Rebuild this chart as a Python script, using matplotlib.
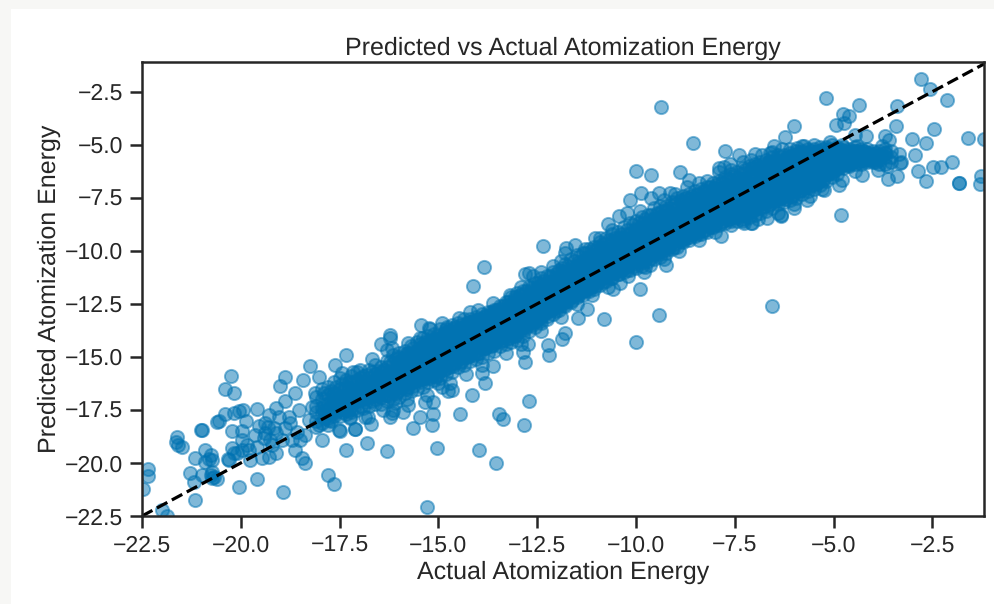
import numpy as np
import matplotlib
matplotlib.use('Agg')
import matplotlib.pyplot as plt
from matplotlib.patches import Rectangle

plt.rcParams['font.family'] = ['Liberation Sans', 'DejaVu Sans']
plt.rcParams['text.hinting'] = 'no_hinting'
plt.rcParams['text.hinting_factor'] = 1

TITLE = 'Predicted vs Actual Atomization Energy'
XLABEL = 'Actual Atomization Energy'
YLABEL = 'Predicted Atomization Energy'
TICKS = [-22.5, -20.0, -17.5, -15.0, -12.5, -10.0, -7.5, -5.0, -2.5]
XLIM = (-22.5, -1.18)
YLIM = (-22.5, -1.1)

# (actual, predicted) for the points that can be told apart
outliers_low = [
    (-20.26,-15.89),(-20.41,-16.52),(-20.18,-16.70),(-20.39,-17.69),(-20.18,-17.66),(-20.04,-17.55),
    (-19.95,-17.50),(-19.59,-17.44),(-19.87,-18.0),(-20.6,-18.08),(-20.54,-18.03),(-21.0,-18.44),
    (-20.98,-18.44),(-20.22,-18.49),(-19.97,-18.49),(-21.61,-18.79),(-21.64,-19.02),(-21.6,-19.15),
    (-21.5,-19.26),(-20.9,-19.39),(-20.75,-19.62),(-21.15,-19.78),(-20.8,-19.81),(-20.9,-19.94),
    (-20.73,-19.86),(-20.33,-19.79),(-20.22,-19.31),(-20.18,-19.54),(-20.29,-19.86),(-20.09,-19.54),
    (-19.97,-19.39),(-19.97,-18.91),(-19.84,-19.15),(-19.76,-19.86),(-19.8,-19.39),(-21.28,-20.45),
    (-20.98,-20.56),(-20.73,-20.41),(-20.75,-20.56),(-21.19,-20.91),(-20.73,-20.72),(-20.6,-20.75),
    (-20.69,-20.64),(-19.59,-20.74),(-20.05,-21.13),(-21.15,-21.74),(-18.93,-21.38),(-17.8,-20.56),
    (-17.64,-20.97),(-17.33,-19.39),(-22.35,-20.28),(-22.35,-20.6),(-22.47,-21.24),(-21.99,-22.2),
    (-21.87,-22.5),(-19.55,-18.28),(-19.38,-18.13),(-19.63,-18.68),(-19.29,-17.73),(-19.12,-17.42),
    (-18.87,-17.1),(-19.0,-16.37),(-18.87,-15.93),(-18.42,-16.11),(-18.24,-15.42),(-18.62,-16.71),
    (-18.87,-18.36),(-18.7,-18.91),(-18.62,-19.39),(-18.45,-19.78),(-18.37,-20.01),(-19.29,-19.7),
    (-19.12,-19.54),(-19.46,-19.78),(-19.21,-19.15),(-19.04,-17.81),(-18.79,-17.81),(-18.53,-17.5),
    (-18.58,-18.52),(-18.37,-18.68),(-18.28,-17.97),(-17.94,-18.91),(-18.03,-18.2),(-17.52,-18.44),
    (-17.1,-18.41),(-17.61,-15.38),(-18.03,-15.93),(-18.11,-16.71),(-18.2,-17.34),(-17.77,-17.97),
    (-17.35,-17.5),(-17.23,-17.89),(-19.42,-18.83),(-19.59,-19.23),(-19.38,-18.6),(-19.17,-18.36),
    (-19.25,-18.91),(-19.3,-18.3),(-19.1,-18.6),(-18.95,-18.9),(-18.75,-18.1),(-18.5,-18.9),
]
outliers_mid = [
    (-15.28,-22.06),(-16.31,-19.43),(-16.81,-19.04),(-15.04,-19.29),(-13.96,-19.37),(-13.54,-20.01),
    (-12.84,-18.21),(-12.7,-17.09),(-13.47,-17.7),(-13.36,-17.92),(-14.16,-16.79),(-14.45,-17.67),
    (-15.65,-18.36),(-15.17,-18.21),(-15.13,-17.67),(-15.46,-17.81),(-16.22,-17.81),(-16.18,-17.66),
    (-15.89,-17.58),(-15.78,-17.29),(-16.1,-17.18),(-16.14,-17.5),(-17.11,-18.41),(-17.49,-18.47),
    (-16.71,-18.14),(-16.86,-17.81),(-16.77,-17.84),(-17.24,-17.84),(-15.34,-17.15),(-15.13,-17.11),
    (-15.0,-16.24),(-14.71,-16.24),(-14.66,-16.56),(-14.75,-16.63),(-13.82,-16.21),(-13.9,-15.77),
    (-13.61,-15.45),(-12.81,-15.22),(-12.85,-14.75),(-12.72,-14.39),(-12.19,-14.9),(-12.22,-14.46),
    (-11.88,-14.17),(-11.79,-13.88),(-17.34,-14.9),(-16.69,-15.11),(-16.44,-14.39),(-16.22,-13.96),
    (-16.22,-14.12),(-16.31,-14.67),(-16.18,-14.59),(-15.76,-14.35),(-15.44,-13.49),(-15.23,-13.65),
    (-15.46,-14.12),(-14.79,-13.57),(-14.47,-13.17),(-17.45,-15.77),(-17.15,-15.69),(-16.98,-15.64),
    (-13.61,-12.47),(-12.36,-9.77),(-13.84,-10.77),(-14.13,-11.65),(-9.99,-6.23),(-9.61,-6.42),
    (-8.88,-6.29),(-10.15,-7.6),(-9.88,-7.28),(-9.89,-8.1),(-10.72,-8.73),(-10.44,-8.34),(-10.23,-8.23),
    (-12.81,-11.1),(-12.7,-11.06),(-11.79,-10.11),(-11.78,-9.88),(-11.54,-9.72),(-11.03,-9.41),
    (-9.89,-11.81),(-10.81,-13.23),(-9.41,-13.04),(-10.01,-14.31),(-11.46,-13.15),(-11.24,-12.76),
    (-10.59,-11.81),(-10.4,-11.53),(-9.77,-10.74),(-9.64,-10.66),(-9.24,-10.66),
]
outliers_high = [
    (-9.36,-3.24),(-8.55,-4.93),(-5.99,-4.11),(-6.24,-4.64),(-7.74,-5.29),(-7.38,-5.49),(-7.0,-5.43),
    (-6.57,-12.6),(-7.84,-9.28),(-6.33,-8.35),(-7.27,-8.7),(-7.06,-8.7),(-6.68,-8.46),(-5.67,-7.6),
    (-6.01,-7.99),(-6.51,-5.08),(-5.92,-5.16),(-5.75,-5.08),(-7.9,-6.1),(-7.78,-6.03),(-7.63,-5.9),
    (-8.66,-6.65),(-9.13,-7.28),(-9.42,-7.28),(-9.63,-7.49),(-2.78,-1.90),(-2.57,-2.38),(-2.14,-2.91),
    (-5.18,-2.8),(-4.36,-3.15),(-3.39,-3.19),(-4.76,-3.55),(-4.6,-3.63),(-4.94,-4.06),(-4.74,-3.98),
    (-3.43,-4.1),(-2.45,-4.26),(-4.45,-4.53),(-4.19,-4.58),(-3.69,-4.61),(-3.6,-4.77),(-3.01,-4.72),
    (-2.67,-4.92),(-1.6,-4.66),(-1.2,-4.73),(-6.56,-5.32),(-5.8,-5.08),(-5.5,-5.0),(-5.09,-4.89),
    (-4.78,-5.0),(-4.4,-5.08),(-3.35,-5.44),(-2.93,-5.5),(-2.0,-5.82),(-2.29,-6.05),(-2.48,-6.05),
    (-2.87,-6.23),(-3.29,-5.82),(-3.32,-5.87),(-3.64,-5.99),(-3.39,-6.46),(-3.62,-6.62),(-2.66,-6.73),
    (-3.88,-6.18),(-4.28,-6.42),(-4.45,-6.26),(-1.83,-6.81),(-1.83,-6.81),(-1.28,-6.46),(-1.3,-6.86),
    (-4.78,-6.65),(-4.87,-6.89),(-4.81,-8.3),(-3.77,-5.08),(-3.69,-5.39),(-3.81,-5.55),(-3.98,-5.63),
    (-4.15,-5.55),(-5.25,-7.12),(-6.34,-8.33),(-7.1,-8.7),
]
# bumps on the upper and lower edge of the band
edge_upper = [
    (-15.2,-13.7),(-14.9,-13.4),(-14.2,-12.9),(-14.0,-12.8),(-13.2,-12.1),(-12.9,-11.7),(-12.6,-11.2),
    (-12.4,-11.0),(-12.1,-10.7),(-11.9,-10.5),(-11.3,-9.9),(-10.9,-9.4),(-10.6,-9.0),(-9.3,-7.6),
    (-9.0,-7.3),(-8.7,-7.0),(-8.4,-6.8),(-8.2,-6.7),(-7.9,-6.3),(-7.6,-6.2),(-7.3,-5.8),(-7.1,-5.7),
    (-6.8,-5.5),(-6.6,-5.4),(-6.3,-5.2),(-6.1,-5.2),
]
edge_lower = [
    (-16.4,-17.5),(-15.8,-17.0),(-15.3,-16.8),(-14.9,-16.4),(-14.3,-15.8),(-13.9,-15.4),(-13.3,-14.8),
    (-12.9,-14.4),(-12.4,-13.8),(-11.9,-13.1),(-11.5,-12.5),(-11.1,-12.1),(-10.7,-11.7),(-10.2,-11.2),
    (-9.8,-11.0),(-9.3,-10.4),(-8.9,-10.0),(-8.4,-9.5),(-8.0,-9.1),(-7.6,-8.8),(-7.3,-8.6),(-6.9,-8.5),
    (-6.4,-8.2),(-6.0,-7.8),(-5.6,-7.4),(-5.3,-7.1),
]

# dense band, read column by column: (actual, [predicted, ...])
band_low = [
    (-18.1,[-16.9,-17.3,-17.6,-18.0,-18.3]),(-17.95,[-16.5,-17.0,-17.4,-17.7,-18.1]),
    (-17.8,[-16.4,-16.8,-17.2,-17.5,-17.9,-18.2]),(-17.65,[-16.2,-16.7,-17.0,-17.4,-17.8]),
    (-17.5,[-16.0,-16.5,-16.9,-17.2,-17.5,-17.8]),(-17.35,[-16.1,-16.4,-16.8,-17.1,-17.4,-17.7]),
    (-17.2,[-15.9,-16.3,-16.6,-17.0,-17.3,-17.6]),(-17.05,[-15.7,-16.1,-16.5,-16.8,-17.1,-17.5]),
    (-16.9,[-15.9,-16.2,-16.5,-16.7,-17.0,-17.4]),(-16.75,[-15.6,-16.0,-16.3,-16.6,-16.9,-17.3]),
    (-16.6,[-15.4,-15.8,-16.1,-16.4,-16.7,-17.0,-17.2]),(-16.45,[-15.5,-15.7,-16.0,-16.3,-16.6,-16.9,-17.2]),
    (-16.3,[-15.2,-15.5,-15.9,-16.2,-16.5,-16.8,-17.1]),(-16.15,[-14.9,-15.3,-15.7,-16.0,-16.3,-16.6,-17.0]),
    (-16.0,[-14.8,-15.2,-15.5,-15.8,-16.1,-16.4,-16.9]),(-15.85,[-14.7,-15.0,-15.4,-15.7,-16.0,-16.3,-16.7]),
    (-15.7,[-14.5,-14.9,-15.2,-15.6,-15.9,-16.2,-16.6]),(-15.55,[-14.3,-14.7,-15.1,-15.4,-15.7,-16.1,-16.5]),
    (-15.4,[-14.1,-14.5,-14.9,-15.3,-15.6,-16.0,-16.4]),(-15.25,[-14.0,-14.4,-14.8,-15.1,-15.5,-15.8,-16.2]),
    (-15.1,[-13.9,-14.3,-14.6,-15.0,-15.3,-15.7,-16.1]),(-14.95,[-13.7,-14.1,-14.5,-14.9,-15.2,-15.6,-16.0]),
    (-14.8,[-13.7,-14.0,-14.4,-14.7,-15.0,-15.4,-15.8]),(-14.65,[-13.5,-13.9,-14.2,-14.6,-14.9,-15.3,-15.7]),
    (-14.5,[-13.4,-13.8,-14.1,-14.4,-14.8,-15.1,-15.5]),(-14.35,[-13.2,-13.6,-14.0,-14.3,-14.6,-15.0,-15.4]),
    (-14.2,[-13.2,-13.5,-13.9,-14.2,-14.5,-14.8,-15.2]),(-14.05,[-13.1,-13.4,-13.7,-14.0,-14.3,-14.7,-15.1]),
    (-13.9,[-13.0,-13.3,-13.6,-13.9,-14.2,-14.5,-15.0]),(-13.75,[-12.9,-13.2,-13.5,-13.8,-14.1,-14.4,-14.8]),
    (-13.6,[-12.8,-13.1,-13.4,-13.6,-13.9,-14.3,-14.7]),(-13.45,[-12.6,-12.9,-13.2,-13.5,-13.8,-14.1,-14.5]),
    (-13.3,[-12.4,-12.8,-13.1,-13.4,-13.7,-14.0,-14.4]),(-13.15,[-12.2,-12.6,-13.0,-13.3,-13.6,-13.9,-14.3]),
]
band_mid = [
    (-13.0,[-12.0,-12.4,-12.8,-13.1,-13.4,-13.8,-14.2]),(-12.85,[-11.9,-12.3,-12.6,-13.0,-13.3,-13.6,-14.0]),
    (-12.7,[-11.7,-12.1,-12.5,-12.8,-13.1,-13.4,-13.8]),(-12.55,[-11.5,-11.9,-12.3,-12.6,-13.0,-13.3,-13.6]),
    (-12.4,[-11.3,-11.7,-12.1,-12.5,-12.8,-13.1,-13.4]),(-12.25,[-11.2,-11.6,-12.0,-12.3,-12.6,-12.9,-13.2]),
    (-12.1,[-11.0,-11.4,-11.8,-12.1,-12.4,-12.7,-13.0]),(-11.95,[-10.9,-11.3,-11.6,-11.9,-12.2,-12.5,-12.8]),
    (-11.8,[-10.6,-11.0,-11.4,-11.8,-12.1,-12.4,-12.6]),(-11.65,[-10.4,-10.9,-11.3,-11.6,-11.9,-12.2,-12.4]),
    (-11.5,[-10.2,-10.7,-11.1,-11.4,-11.7,-12.0,-12.2]),(-11.35,[-10.1,-10.5,-10.9,-11.3,-11.6,-11.9,-12.1]),
    (-11.2,[-9.9,-10.3,-10.8,-11.1,-11.4,-11.7,-11.9]),(-11.05,[-9.8,-10.2,-10.6,-11.0,-11.2,-11.5,-11.8]),
    (-10.9,[-9.6,-10.0,-10.4,-10.8,-11.0,-11.3,-11.6]),(-10.75,[-9.4,-9.9,-10.3,-10.6,-10.9,-11.2,-11.4]),
    (-10.6,[-9.2,-9.7,-10.1,-10.5,-10.7,-11.0,-11.3]),(-10.45,[-9.1,-9.6,-10.0,-10.3,-10.6,-10.9,-11.1]),
    (-10.3,[-8.9,-9.4,-9.8,-10.2,-10.5,-10.8,-11.0]),(-10.15,[-8.7,-9.2,-9.6,-10.0,-10.3,-10.6,-10.9]),
    (-10.0,[-8.6,-9.0,-9.5,-9.9,-10.2,-10.5,-10.8]),(-9.85,[-8.4,-8.9,-9.3,-9.7,-10.0,-10.3,-10.7]),
    (-9.7,[-8.3,-8.7,-9.2,-9.6,-9.9,-10.2,-10.5]),(-9.55,[-8.0,-8.5,-9.0,-9.4,-9.8,-10.1,-10.4]),
    (-9.4,[-7.9,-8.4,-8.9,-9.3,-9.6,-9.9,-10.3]),(-9.25,[-7.9,-8.3,-8.7,-9.1,-9.5,-9.8,-10.1]),
    (-9.1,[-7.7,-8.2,-8.6,-9.0,-9.3,-9.6,-9.9]),(-8.95,[-7.5,-8.0,-8.4,-8.8,-9.2,-9.5,-9.8]),
    (-8.8,[-7.4,-7.8,-8.3,-8.7,-9.0,-9.3,-9.6]),(-8.65,[-7.3,-7.7,-8.2,-8.5,-8.9,-9.2,-9.5]),
    (-8.5,[-7.2,-7.6,-8.0,-8.4,-8.8,-9.1,-9.3]),(-8.35,[-7.1,-7.5,-7.9,-8.3,-8.6,-8.9,-9.2]),
    (-8.2,[-7.0,-7.4,-7.8,-8.2,-8.5,-8.8,-9.1]),(-8.05,[-6.8,-7.2,-7.7,-8.0,-8.3,-8.6,-8.9]),
]
band_high = [
    (-7.9,[-6.7,-7.1,-7.5,-7.9,-8.2,-8.5,-8.8]),(-7.75,[-6.5,-7.0,-7.4,-7.8,-8.1,-8.4,-8.7]),
    (-7.6,[-6.4,-6.9,-7.3,-7.6,-8.0,-8.3,-8.6]),(-7.45,[-6.3,-6.8,-7.2,-7.5,-7.9,-8.2,-8.6]),
    (-7.3,[-6.1,-6.6,-7.0,-7.4,-7.8,-8.1,-8.5]),(-7.15,[-6.0,-6.5,-6.9,-7.3,-7.6,-8.0,-8.4]),
    (-7.0,[-5.9,-6.3,-6.8,-7.2,-7.5,-7.9,-8.3]),(-6.85,[-5.8,-6.2,-6.7,-7.1,-7.4,-7.8,-8.2]),
    (-6.7,[-5.7,-6.1,-6.5,-6.9,-7.3,-7.7,-8.1]),(-6.55,[-5.6,-6.0,-6.4,-6.8,-7.2,-7.6,-8.0]),
    (-6.4,[-5.5,-5.9,-6.3,-6.7,-7.1,-7.5,-7.8]),(-6.25,[-5.5,-5.8,-6.2,-6.6,-7.0,-7.4,-7.7]),
    (-6.1,[-5.4,-5.7,-6.1,-6.5,-6.9,-7.2,-7.6]),(-5.95,[-5.3,-5.6,-6.0,-6.4,-6.8,-7.1,-7.5]),
    (-5.8,[-5.3,-5.6,-5.9,-6.3,-6.7,-7.0,-7.3]),(-5.65,[-5.2,-5.5,-5.8,-6.2,-6.5,-6.8,-7.2]),
    (-5.5,[-5.2,-5.5,-5.8,-6.1,-6.4,-6.7,-7.1]),(-5.35,[-5.1,-5.4,-5.7,-6.0,-6.3,-6.6,-6.9]),
    (-5.2,[-5.1,-5.4,-5.6,-5.9,-6.2,-6.4,-6.7]),(-5.05,[-5.0,-5.3,-5.5,-5.8,-6.0,-6.3,-6.5]),
    (-4.9,[-5.1,-5.3,-5.5,-5.7,-5.9,-6.1,-6.4]),(-4.75,[-5.1,-5.3,-5.5,-5.7,-5.9,-6.1]),
    (-4.6,[-5.2,-5.4,-5.5,-5.7,-5.9,-6.0]),(-4.45,[-5.1,-5.3,-5.5,-5.7,-5.9]),
    (-4.3,[-5.2,-5.4,-5.5,-5.7,-5.9]),(-4.15,[-5.2,-5.4,-5.6,-5.8]),
    (-4.0,[-5.3,-5.5,-5.7,-5.8]),(-3.85,[-5.3,-5.5,-5.7,-5.9]),
    (-3.7,[-5.2,-5.4,-5.6,-5.9]),(-3.55,[-5.3,-5.6,-5.8]),
]
# inner part of the band, between the columns above
band_core = [
    (-17.9,[-16.7,-17.2,-17.5,-17.9]),(-17.58,[-16.4,-16.8,-17.1,-17.6]),
    (-17.27,[-16.2,-16.5,-16.9,-17.2,-17.5]),(-16.97,[-16.0,-16.4,-16.7,-17.0,-17.3]),
    (-16.67,[-15.7,-16.2,-16.5,-16.8,-17.1]),(-16.37,[-15.6,-15.9,-16.2,-16.5,-16.8]),
    (-16.07,[-15.1,-15.6,-15.9,-16.2,-16.5,-16.7]),(-15.93,[-15.1,-15.4,-15.8,-16.1,-16.4]),
    (-15.77,[-14.8,-15.1,-15.5,-15.8,-16.1,-16.4]),(-15.63,[-14.6,-15.0,-15.3,-15.6,-15.9,-16.2]),
    (-15.47,[-14.4,-14.8,-15.2,-15.5,-15.8,-16.1]),(-15.33,[-14.3,-14.7,-15.0,-15.3,-15.6,-16.0]),
    (-15.17,[-14.2,-14.6,-14.9,-15.2,-15.5,-15.9]),(-15.03,[-14.0,-14.4,-14.7,-15.1,-15.4,-15.8]),
    (-14.87,[-13.9,-14.2,-14.6,-14.9,-15.2,-15.6]),(-14.73,[-13.8,-14.1,-14.5,-14.8,-15.1,-15.5]),
    (-14.57,[-13.6,-14.0,-14.3,-14.6,-14.9,-15.3]),(-14.43,[-13.5,-13.9,-14.2,-14.5,-14.8,-15.2]),
    (-14.27,[-13.4,-13.7,-14.1,-14.4,-14.7,-15.0]),(-14.13,[-13.3,-13.6,-13.9,-14.2,-14.6,-14.9]),
    (-13.97,[-13.2,-13.5,-13.8,-14.1,-14.4,-14.8]),(-13.83,[-13.1,-13.4,-13.7,-14.0,-14.3,-14.6]),
    (-13.67,[-12.9,-13.2,-13.5,-13.8,-14.1,-14.5]),(-13.53,[-12.8,-13.0,-13.4,-13.7,-14.0,-14.3]),
    (-13.37,[-12.6,-12.9,-13.3,-13.6,-13.9,-14.2]),(-13.23,[-12.4,-12.7,-13.1,-13.5,-13.8,-14.1]),
    (-13.07,[-12.2,-12.6,-12.9,-13.2,-13.6,-14.0]),(-12.93,[-12.1,-12.5,-12.8,-13.2,-13.5,-13.8]),
    (-12.77,[-11.9,-12.3,-12.7,-13.0,-13.3,-13.6]),(-12.63,[-11.7,-12.1,-12.4,-12.8,-13.1,-13.4]),
    (-12.47,[-11.5,-11.9,-12.2,-12.6,-12.9,-13.2]),(-12.33,[-11.4,-11.8,-12.1,-12.4,-12.7,-13.0]),
    (-12.17,[-11.2,-11.6,-11.9,-12.2,-12.5,-12.8]),(-12.03,[-11.1,-11.5,-11.8,-12.1,-12.4,-12.7]),
    (-11.87,[-10.8,-11.2,-11.6,-11.9,-12.2,-12.5]),(-11.73,[-10.7,-11.1,-11.5,-11.8,-12.0,-12.3]),
    (-11.57,[-10.5,-10.9,-11.2,-11.5,-11.8,-12.1]),(-11.43,[-10.3,-10.8,-11.1,-11.4,-11.7,-12.0]),
    (-11.27,[-10.1,-10.6,-10.9,-11.2,-11.5,-11.8]),(-11.13,[-10.0,-10.4,-10.8,-11.1,-11.4,-11.7]),
    (-10.97,[-9.8,-10.2,-10.6,-10.9,-11.2,-11.5]),(-10.83,[-9.7,-10.1,-10.5,-10.7,-11.0,-11.3]),
    (-10.67,[-9.5,-9.9,-10.2,-10.6,-10.9,-11.2]),(-10.53,[-9.4,-9.8,-10.1,-10.4,-10.8,-11.0]),
    (-10.37,[-9.2,-9.6,-10.0,-10.3,-10.6,-10.9]),(-10.23,[-9.0,-9.5,-9.9,-10.2,-10.5,-10.7]),
    (-10.07,[-8.8,-9.3,-9.7,-10.1,-10.4,-10.6]),(-9.93,[-8.7,-9.2,-9.6,-9.9,-10.2,-10.5]),
    (-9.77,[-8.5,-9.0,-9.4,-9.8,-10.1,-10.4]),(-9.63,[-8.3,-8.8,-9.3,-9.6,-9.9,-10.2]),
    (-9.47,[-8.2,-8.7,-9.1,-9.5,-9.8,-10.1]),(-9.33,[-8.1,-8.6,-9.0,-9.3,-9.7,-10.0]),
    (-9.17,[-8.0,-8.4,-8.8,-9.2,-9.5,-9.8]),(-9.03,[-7.8,-8.3,-8.7,-9.1,-9.4,-9.7]),
    (-8.87,[-7.6,-8.1,-8.5,-8.9,-9.2,-9.5]),(-8.73,[-7.5,-8.0,-8.4,-8.8,-9.1,-9.4]),
    (-8.57,[-7.4,-7.8,-8.2,-8.6,-8.9,-9.2]),(-8.43,[-7.3,-7.7,-8.1,-8.5,-8.8,-9.1]),
    (-8.27,[-7.2,-7.6,-8.0,-8.4,-8.7,-9.0]),(-8.13,[-7.0,-7.5,-7.9,-8.3,-8.6,-8.9]),
    (-7.97,[-6.9,-7.3,-7.8,-8.1,-8.4,-8.7]),(-7.83,[-6.8,-7.2,-7.6,-8.0,-8.3,-8.6]),
    (-7.67,[-6.6,-7.1,-7.5,-7.8,-8.2,-8.5]),(-7.53,[-6.5,-7.0,-7.4,-7.7,-8.1,-8.4]),
    (-7.37,[-6.4,-6.8,-7.2,-7.6,-7.9,-8.3]),(-7.23,[-6.2,-6.7,-7.1,-7.5,-7.8,-8.2]),
    (-7.07,[-6.1,-6.5,-7.0,-7.4,-7.7,-8.1]),(-6.93,[-6.0,-6.4,-6.9,-7.3,-7.6,-8.0]),
    (-6.77,[-5.9,-6.3,-6.7,-7.1,-7.5,-7.9]),(-6.63,[-5.8,-6.2,-6.6,-7.0,-7.4,-7.8]),
    (-6.47,[-5.7,-6.1,-6.5,-6.9,-7.3,-7.6]),(-6.33,[-5.6,-6.0,-6.4,-6.8,-7.2,-7.5]),
    (-6.17,[-5.6,-5.9,-6.3,-6.7,-7.1,-7.4]),(-6.03,[-5.5,-5.8,-6.2,-6.6,-7.0,-7.3]),
    (-5.87,[-5.4,-5.7,-6.1,-6.5,-6.9,-7.2]),(-5.73,[-5.4,-5.7,-6.0,-6.4,-6.7,-7.0]),
    (-5.57,[-5.3,-5.6,-5.9,-6.3,-6.6,-6.9]),(-5.43,[-5.3,-5.6,-5.9,-6.2,-6.5,-6.8]),
    (-5.27,[-5.2,-5.5,-5.8,-6.1,-6.3,-6.6]),(-5.13,[-5.2,-5.4,-5.7,-5.9,-6.2,-6.4]),
    (-4.97,[-5.2,-5.4,-5.6,-5.8,-6.0,-6.2]),(-4.83,[-5.2,-5.4,-5.6,-5.8,-6.0]),
    (-4.67,[-5.3,-5.5,-5.6,-5.8,-5.9]),(-4.53,[-5.3,-5.4,-5.6,-5.8]),
    (-4.37,[-5.3,-5.5,-5.6,-5.8]),(-4.22,[-5.3,-5.5,-5.7]),
    (-4.07,[-5.4,-5.6,-5.7]),(-3.92,[-5.4,-5.6,-5.8]),
]
# the solid middle of the band
band_inner = [
    (-17.72,[-16.6,-17.05,-17.35,-17.65,-18.0]),(-17.43,[-16.3,-16.65,-16.95,-17.3,-17.6]),
    (-17.13,[-16.2,-16.55,-16.85,-17.15,-17.4]),(-16.83,[-15.85,-16.25,-16.55,-16.85,-17.15]),
    (-16.53,[-15.65,-15.95,-16.25,-16.55,-16.85]),(-16.23,[-15.25,-15.65,-15.95,-16.25,-16.55,-16.85]),
    (-16.03,[-15.0,-15.35,-15.7,-16.0,-16.3,-16.6]),(-15.83,[-14.85,-15.25,-15.55,-15.9,-16.2,-16.5]),
    (-15.63,[-14.8,-15.15,-15.45,-15.75,-16.05,-16.35]),(-15.43,[-14.65,-14.95,-15.25,-15.55,-15.9,-16.2]),
    (-15.23,[-14.25,-14.6,-14.95,-15.3,-15.65,-16.0]),(-15.03,[-14.15,-14.5,-14.85,-15.2,-15.55,-15.9]),
    (-14.83,[-13.85,-14.2,-14.55,-14.85,-15.15,-15.55]),(-14.63,[-13.7,-14.05,-14.4,-14.75,-15.05,-15.45]),
    (-14.43,[-13.65,-13.95,-14.3,-14.6,-14.95,-15.25]),(-14.23,[-13.35,-13.65,-14.0,-14.35,-14.65,-14.95]),
    (-14.03,[-13.25,-13.55,-13.85,-14.15,-14.45,-14.8]),(-13.83,[-13.05,-13.35,-13.65,-13.95,-14.25,-14.6]),
    (-13.63,[-12.95,-13.25,-13.55,-13.85,-14.15,-14.45]),(-13.43,[-12.75,-13.05,-13.35,-13.65,-13.95,-14.25]),
    (-13.23,[-12.55,-12.9,-13.2,-13.55,-13.85,-14.15]),(-13.03,[-12.25,-12.6,-12.95,-13.3,-13.6,-13.95]),
    (-12.83,[-12.05,-12.45,-12.75,-13.1,-13.4,-13.75]),(-12.63,[-11.85,-12.2,-12.55,-12.9,-13.2,-13.5]),
    (-12.43,[-11.6,-12.0,-12.35,-12.7,-13.0,-13.3]),(-12.23,[-11.45,-11.8,-12.15,-12.45,-12.75,-13.05]),
    (-12.03,[-11.25,-11.65,-11.95,-12.25,-12.55,-12.85]),(-11.83,[-10.95,-11.35,-11.7,-12.0,-12.3,-12.55]),
    (-11.63,[-10.75,-11.15,-11.5,-11.8,-12.05,-12.3]),(-11.43,[-10.55,-10.95,-11.25,-11.55,-11.85,-12.1]),
    (-11.23,[-10.35,-10.7,-11.05,-11.35,-11.6,-11.85]),(-11.03,[-10.05,-10.45,-10.85,-11.15,-11.4,-11.65]),
    (-10.83,[-9.85,-10.25,-10.65,-10.95,-11.2,-11.45]),(-10.63,[-9.6,-10.0,-10.4,-10.75,-11.05,-11.3]),
    (-10.43,[-9.4,-9.85,-10.2,-10.55,-10.85,-11.1]),(-10.23,[-9.2,-9.65,-10.05,-10.35,-10.65,-10.9]),
    (-10.03,[-8.95,-9.35,-9.75,-10.1,-10.4,-10.7]),(-9.83,[-8.75,-9.15,-9.55,-9.95,-10.25,-10.55]),
    (-9.63,[-8.55,-9.05,-9.45,-9.8,-10.05,-10.35]),(-9.43,[-8.25,-8.75,-9.2,-9.55,-9.85,-10.15]),
    (-9.23,[-8.1,-8.55,-8.95,-9.3,-9.65,-9.95]),(-9.03,[-8.05,-8.45,-8.85,-9.2,-9.5,-9.8]),
    (-8.83,[-7.65,-8.1,-8.55,-8.95,-9.25,-9.55]),(-8.63,[-7.55,-8.0,-8.4,-8.75,-9.05,-9.35]),
    (-8.43,[-7.35,-7.8,-8.25,-8.65,-8.95,-9.2]),(-8.23,[-7.25,-7.65,-8.05,-8.4,-8.7,-9.0]),
    (-8.03,[-7.05,-7.5,-7.9,-8.25,-8.55,-8.8]),(-7.83,[-6.75,-7.25,-7.65,-8.05,-8.35,-8.65]),
    (-7.63,[-6.65,-7.15,-7.55,-7.9,-8.2,-8.5]),(-7.43,[-6.55,-7.0,-7.4,-7.75,-8.05,-8.4]),
    (-7.23,[-6.35,-6.85,-7.25,-7.65,-7.95,-8.25]),(-7.03,[-6.1,-6.6,-7.05,-7.45,-7.75,-8.1]),
    (-6.83,[-6.05,-6.5,-6.95,-7.3,-7.65,-8.0]),(-6.63,[-5.85,-6.3,-6.75,-7.1,-7.5,-7.85]),
    (-6.43,[-5.75,-6.15,-6.55,-6.95,-7.3,-7.65]),(-6.23,[-5.65,-6.05,-6.45,-6.85,-7.2,-7.55]),
    (-6.03,[-5.55,-5.95,-6.35,-6.7,-7.05,-7.4]),(-5.83,[-5.45,-5.8,-6.15,-6.55,-6.85,-7.15]),
    (-5.63,[-5.4,-5.7,-6.05,-6.4,-6.7,-7.0]),(-5.43,[-5.35,-5.65,-5.95,-6.25,-6.55,-6.8]),
    (-5.23,[-5.25,-5.55,-5.85,-6.15,-6.4,-6.6]),(-5.03,[-5.25,-5.45,-5.7,-5.95,-6.15,-6.35]),
    (-4.83,[-5.25,-5.45,-5.65,-5.85,-6.05]),(-4.63,[-5.35,-5.55,-5.75,-5.95]),
    (-4.43,[-5.35,-5.55,-5.75]),(-4.23,[-5.35,-5.55,-5.75]),
]

actual = []
predicted = []
for group in (outliers_low, outliers_mid, outliers_high, edge_upper, edge_lower):
    for a, p in group:
        actual.append(a)
        predicted.append(p)
for group in (band_low, band_mid, band_high, band_core, band_inner):
    for a, ps in group:
        for p in ps:
            actual.append(a)
            predicted.append(p)

fig = plt.figure(figsize=(9.95, 6.04), dpi=100, facecolor='#f7f7f5')
fig.add_artist(Rectangle((11 / 995, 0), 1, 1 - 9 / 604, transform=fig.transFigure,
                         facecolor='white', edgecolor='none', zorder=-1))
ax = fig.add_axes([142 / 995, (604 - 516) / 604, (984.5 - 142) / 995, (516 - 62) / 604])

ax.scatter(actual, predicted, s=90, color='#0173b2', alpha=0.5, linewidths=1.4)
ax.plot(XLIM, XLIM, color='black', linestyle='--', linewidth=2.3)
ax.set_xlim(XLIM)
ax.set_ylim(YLIM)
ax.set_xticks(TICKS)
ax.set_yticks(TICKS)
ax.set_title(TITLE, fontsize=18, color='#262626', pad=5.5)
ax.set_xlabel(XLABEL, fontsize=18, color='#262626', labelpad=3.5)
ax.set_ylabel(YLABEL, fontsize=18, color='#262626', labelpad=3)
ax.tick_params(length=8.5, width=1.8, color='#262626', labelcolor='#262626', labelsize=16.5, pad=5)
for side in ax.spines.values():
    side.set_linewidth(1.8)
    side.set_color('#262626')

fig.savefig('out.png', dpi=100, facecolor=fig.get_facecolor())
